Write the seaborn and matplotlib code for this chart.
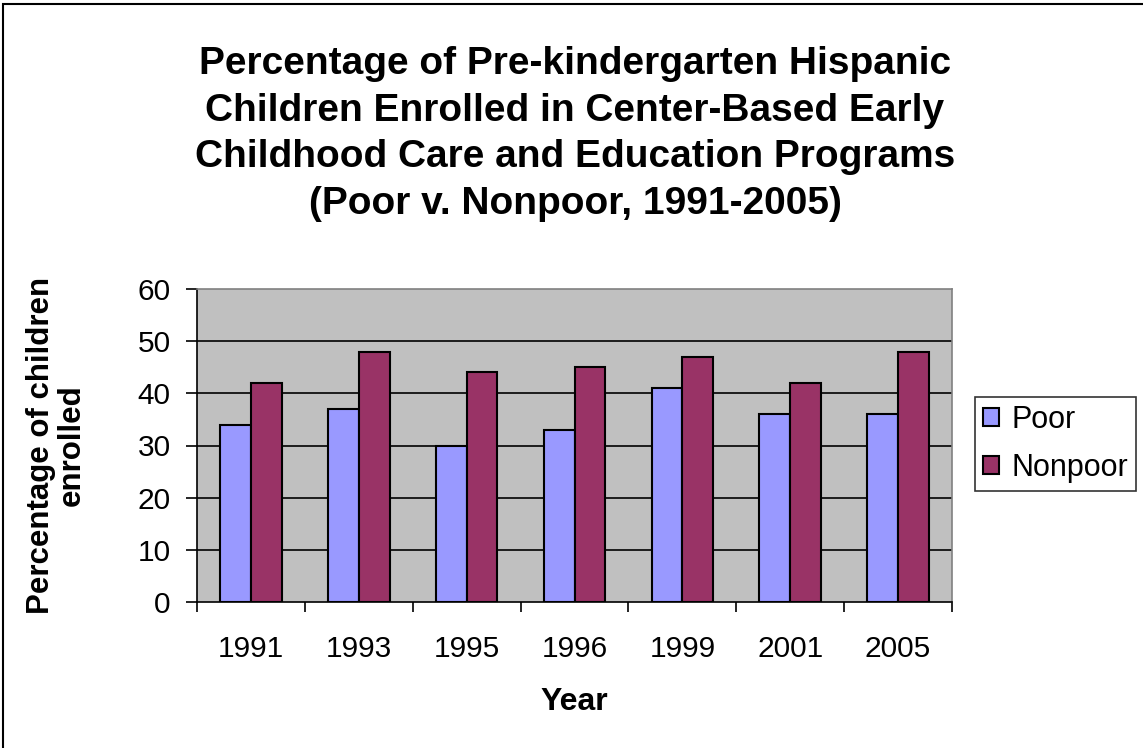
import matplotlib
matplotlib.use("Agg")
import matplotlib.pyplot as plt
from matplotlib.patches import Rectangle
import seaborn as sns
import pandas as pd

years = ["1991", "1993", "1995", "1996", "1999", "2001", "2005"]
poor = [34, 37, 30, 33, 41, 36, 36]
nonpoor = [42, 48, 44, 45, 47, 42, 48]
groups = ["Poor", "Nonpoor"]
colors = ["#9999FF", "#993366"]
y_ticks = [0, 10, 20, 30, 40, 50, 60]

df = pd.DataFrame({
    "Year": years * 2,
    "Percent": poor + nonpoor,
    "Group": [groups[0]] * len(years) + [groups[1]] * len(years),
})

sns.set_style("white")
plt.rcParams["font.family"] = ["Liberation Sans", "DejaVu Sans"]
plt.rcParams.update({"text.color": "black", "axes.labelcolor": "black",
                     "xtick.color": "black", "ytick.color": "black"})

fig = plt.figure(figsize=(11.43, 7.48), dpi=100)
W, H = 1143, 748
ax = fig.add_axes([197 / W, 1 - 602 / H, (952 - 197) / W, (602 - 289) / H])
ax.set_facecolor("#C0C0C0")

sns.barplot(data=df, x="Year", y="Percent", hue="Group", order=years,
            hue_order=groups, palette=colors, saturation=1, width=0.57,
            edgecolor="black", linewidth=1.5, ax=ax, legend=True)

ax.set_ylim(0, 60)
ax.set_xlim(-0.5, len(years) - 0.5)
ax.set_yticks(y_ticks)
for v in y_ticks[1:-1]:
    ax.axhline(v, color="black", linewidth=1.2, zorder=0.5)

for side in ["top", "right"]:
    ax.spines[side].set_color("#808080")
    ax.spines[side].set_linewidth(1.2)
for side in ["left", "bottom"]:
    ax.spines[side].set_color("black")
    ax.spines[side].set_linewidth(1.2)

ax.tick_params(axis="y", which="major", direction="out", length=8, width=1.2,
               color="black", labelsize=21.5, pad=11, left=True)
ax.set_xticks(range(len(years)))
ax.set_xticklabels(years)
ax.tick_params(axis="x", which="major", length=0, labelsize=21.5, pad=24)
ax.set_xticks([i - 0.5 for i in range(len(years) + 1)], minor=True)
ax.tick_params(axis="x", which="minor", direction="out", length=7, width=1.2,
               color="black", bottom=True)

ax.set_xlabel("Year", fontsize=23, fontweight="bold")
ax.xaxis.set_label_coords(0.5, (602 - 687) / 313)
ax.set_ylabel("Percentage of children\nenrolled", fontsize=22.5,
              fontweight="bold", linespacing=1.05)
ax.yaxis.set_label_coords((87 - 197) / 755, 0.5)

fig.text(575 / W, 1 - 46 / H,
         "Percentage of Pre-kindergarten Hispanic\n"
         "Children Enrolled in Center-Based Early\n"
         "Childhood Care and Education Programs\n"
         "(Poor v. Nonpoor, 1991-2005)",
         ha="center", va="top", fontsize=28, fontweight="bold",
         linespacing=1.38)

handles, labels = ax.get_legend_handles_labels()
ax.legend_.remove()
leg = fig.legend(handles, labels, loc="upper left",
                 bbox_to_anchor=(975 / W, 1 - 397 / H),
                 bbox_transform=fig.transFigure, fontsize=22,
                 frameon=True, fancybox=False, handlelength=0.55,
                 handleheight=0.55, handletextpad=0.4, borderpad=0.25,
                 borderaxespad=0, labelspacing=0.6)
leg.get_frame().set_edgecolor("black")
leg.get_frame().set_linewidth(1.2)

# chart frame
fig.patches.append(Rectangle((3 / W, -0.1), 1.2, 1 - 4 / H + 0.1,
                             transform=fig.transFigure, fill=False,
                             edgecolor="black", linewidth=1.5))

fig.savefig("out.png", dpi=100)
